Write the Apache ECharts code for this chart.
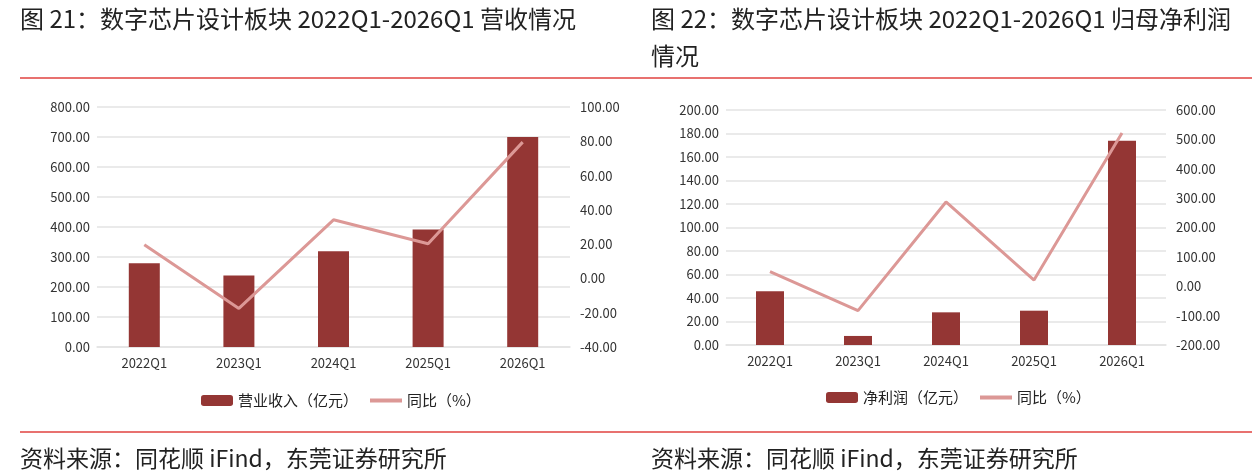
<!DOCTYPE html>
<html>
<head>
  <meta charset="utf-8">
  <title>数字芯片设计板块 营收与归母净利润</title>
  <script src="https://fastly.jsdelivr.net/npm/echarts@6/dist/echarts.min.js"></script>
</head>
<body style="margin:0;background:#fff;">
<div id="chart-container" style="position: relative;width:1254px;height:471px;overflow:hidden;"></div>
<script type="text/javascript">
  var categories = ['2022Q1', '2023Q1', '2024Q1', '2025Q1', '2026Q1'];

  // 图21 营收
  var revenue = [279, 238, 319, 392, 700];
  var revenueYoy = [19.6, -17.5, 34.2, 20.2, 79.5];

  // 图22 归母净利润
  var profit = [45.7, 7.7, 27.8, 29.2, 173.9];
  var profitYoy = [49.7, -83, 287, 21, 522];

  var title1 = '图 21：数字芯片设计板块 2022Q1-2026Q1 营收情况';
  var title2 = '图 22：数字芯片设计板块 2022Q1-2026Q1 归母净利润\n情况';
  var source = '资料来源：同花顺 iFind，东莞证券研究所';

  var FONT = '"Noto Sans CJK SC", "Noto Sans", sans-serif';
  var BAR = '#943634';
  var LINE = '#dc9896';
  var GRID_LINE = '#e3e3e3';
  var RED = '#e8716f';

  var dom = document.getElementById('chart-container');
  var myChart = echarts.init(dom, null, { renderer: 'canvas' });

  function fmt(v) { return v.toFixed(2); }

  function valueAxis(gridIndex, min, max, interval, isRight) {
    return {
      type: 'value',
      gridIndex: gridIndex,
      position: isRight ? 'right' : 'left',
      min: min,
      max: max,
      interval: interval,
      axisLine: { show: false },
      axisTick: { show: false },
      splitLine: { show: !isRight, lineStyle: { color: GRID_LINE, width: 1.5 } },
      axisLabel: {
        formatter: fmt,
        color: '#333',
        fontSize: 13,
        fontFamily: FONT,
        margin: isRight ? 10 : 7
      }
    };
  }

  function catAxis(gridIndex) {
    return {
      type: 'category',
      gridIndex: gridIndex,
      data: categories,
      axisLine: { lineStyle: { color: GRID_LINE, width: 1.5 } },
      axisTick: { show: false },
      axisLabel: { color: '#333', fontSize: 13, fontFamily: FONT, margin: 10 }
    };
  }

  var titleStyle = { fontSize: 24, fontWeight: 'normal', color: '#222', fontFamily: FONT, lineHeight: 37 };
  var sourceStyle = { fontSize: 23, fontWeight: 'normal', color: '#222', fontFamily: FONT, lineHeight: 24 };
  var lineLegend = { name: '同比（%）', itemStyle: { opacity: 0 }, lineStyle: { width: 4 } };

  var option = {
    backgroundColor: '#fff',
    animation: false,
    textStyle: { fontFamily: FONT },
    title: [
      { text: title1, left: 20, top: 0, padding: 0, textStyle: titleStyle },
      { text: title2, left: 651, top: 0, padding: 0, textStyle: titleStyle },
      { text: source, left: 20, top: 446, padding: 0, textStyle: sourceStyle },
      { text: source, left: 651, top: 446, padding: 0, textStyle: sourceStyle }
    ],
    graphic: [
      { type: 'line', shape: { x1: 20, y1: 78, x2: 1252, y2: 78 }, style: { stroke: RED, lineWidth: 2 } },
      { type: 'line', shape: { x1: 20, y1: 432, x2: 1252, y2: 432 }, style: { stroke: RED, lineWidth: 2 } }
    ],
    legend: [
      {
        data: ['营业收入（亿元）', lineLegend],
        left: 196, top: 388,
        itemWidth: 32, itemHeight: 11, itemGap: 10,
        textStyle: { fontSize: 15, color: '#222', fontFamily: FONT }
      },
      {
        data: ['净利润（亿元）', lineLegend],
        left: 821, top: 385,
        itemWidth: 32, itemHeight: 11, itemGap: 10,
        textStyle: { fontSize: 15, color: '#222', fontFamily: FONT }
      }
    ],
    grid: [
      { left: 97, right: 684, top: 107, bottom: 124 },
      { left: 726, right: 88, top: 110, bottom: 126 }
    ],
    xAxis: [catAxis(0), catAxis(1)],
    yAxis: [
      valueAxis(0, 0, 800, 100, false),
      valueAxis(0, -40, 100, 20, true),
      valueAxis(1, 0, 200, 20, false),
      valueAxis(1, -200, 600, 100, true)
    ],
    series: [
      {
        name: '营业收入（亿元）', type: 'bar', xAxisIndex: 0, yAxisIndex: 0,
        data: revenue, barWidth: 31, itemStyle: { color: BAR }
      },
      {
        name: '同比（%）', type: 'line', xAxisIndex: 0, yAxisIndex: 1,
        data: revenueYoy, symbol: 'none', lineStyle: { color: LINE, width: 3 }, itemStyle: { color: LINE }
      },
      {
        name: '净利润（亿元）', type: 'bar', xAxisIndex: 1, yAxisIndex: 2,
        data: profit, barWidth: 28, itemStyle: { color: BAR }
      },
      {
        name: '同比（%）', type: 'line', xAxisIndex: 1, yAxisIndex: 3,
        data: profitYoy, symbol: 'none', lineStyle: { color: LINE, width: 3 }, itemStyle: { color: LINE }
      }
    ]
  };

  myChart.setOption(option);
  window.addEventListener('resize', myChart.resize);
</script>
</body>
</html>
